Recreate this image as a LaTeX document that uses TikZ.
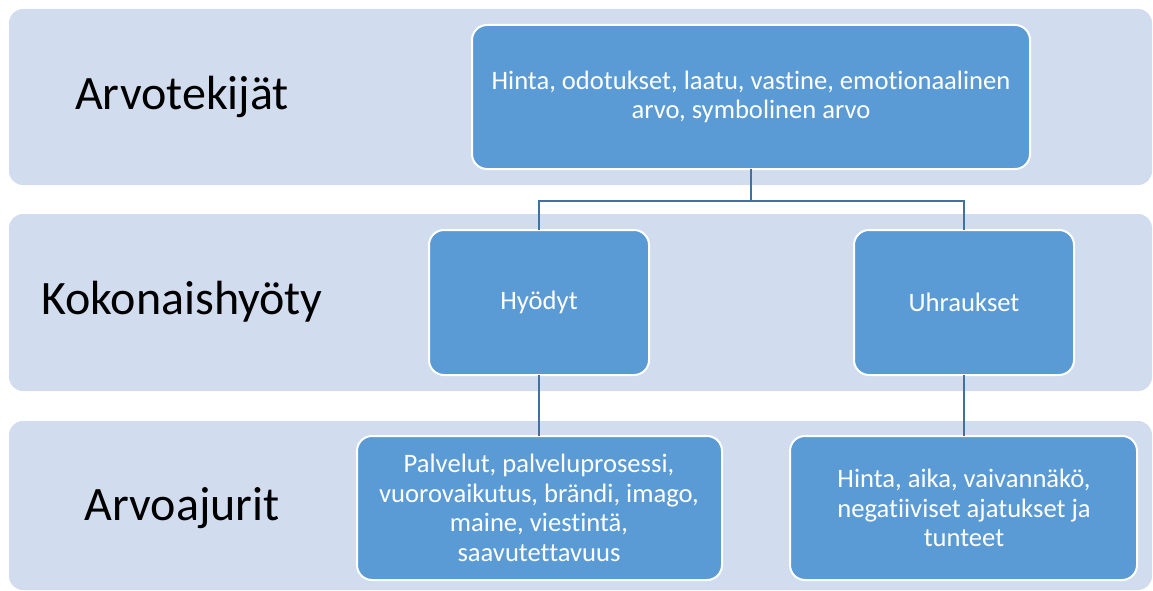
\documentclass[tikz,border=0pt]{standalone}
\usepackage{fontspec}
\setmainfont{Carlito}[Ligatures=NoCommon]
\definecolor{bandfill}{HTML}{D1DCEE}
\definecolor{boxfill}{HTML}{5B9BD5}
\definecolor{linkcol}{HTML}{41719C}
\begin{document}
\begin{tikzpicture}[x=1pt,y=-1pt,
  band/.style={fill=bandfill,rounded corners=14pt},
  bx/.style={draw=white,line width=2pt,fill=boxfill,rounded corners=15pt},
  bxtext/.style={text=white,align=center,font=\fontsize{26.6}{29.5}\selectfont},
  lbl/.style={text=black,font=\fontsize{48}{56}\selectfont},
  link/.style={draw=linkcol,line width=2.2pt}]
\useasboundingbox (0,0) rectangle (1153,591);
% bands
\path[band] (9,9) rectangle (1152,185);
\path[band] (9,214) rectangle (1152,391);
\path[band] (9,421) rectangle (1152,590);
% labels
\node[lbl] (l1) at (182,97) {Arvotekijät};
\node[lbl] (l2) at (182,302) {Kokonaishyöty};
\node[lbl] (l3) at (182,508) {Arvoajurit};
% boxes
\path[bx] (472,25) rectangle (1030,169);
\node[bxtext] (top) at (751,97) {Hinta, odotukset, laatu, vastine, emotionaalinen\\arvo, symbolinen arvo};
\path[bx] (429,230) rectangle (649,375);
\node[bxtext] (hy) at (539,302) {Hyödyt};
\path[bx] (854,230) rectangle (1074,375);
\node[bxtext] (uh) at (964,302) {Uhraukset};
\path[bx] (357,436) rectangle (722,580);
\node[bxtext] (pal) at (539,508) {Palvelut, palveluprosessi,\\vuorovaikutus, brändi, imago,\\maine, viestintä,\\saavutettavuus};
\path[bx] (790,436) rectangle (1137,580);
\node[bxtext] (hin) at (964,508) {Hinta, aika, vaivannäkö,\\negatiiviset ajatukset ja\\tunteet};
% anchors for connectors
\coordinate (topb) at (751,169);
\coordinate (hyt) at (539,230);
\coordinate (uht) at (964,230);
\coordinate (hyb) at (539,375);
\coordinate (uhb) at (964,375);
\coordinate (palt) at (539,436);
\coordinate (hint) at (964,436);
\draw[link] (topb) -- (751,201) -| (hyt);
\draw[link] (751,201) -| (uht);
\draw[link] (hyb) -- (palt);
\draw[link] (uhb) -- (hint);
\end{tikzpicture}
\end{document}
